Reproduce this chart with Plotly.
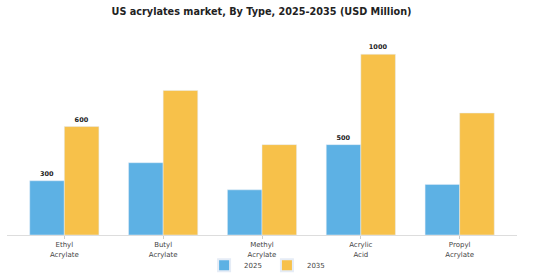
import plotly.graph_objects as go

categories = ["Ethyl<br>Acrylate", "Butyl<br>Acrylate", "Methyl<br>Acrylate", "Acrylic<br>Acid", "Propyl<br>Acrylate"]
values_2025 = [300, 400, 250, 500, 280]
values_2035 = [600, 800, 500, 1000, 675]
labels_2025 = ["300", "", "", "500", ""]
labels_2035 = ["600", "", "", "1000", ""]

fig = go.Figure()
fig.add_trace(go.Bar(x=categories, y=values_2025, name="2025", marker_color="#5DB1E4",
                     text=labels_2025, textposition="outside", cliponaxis=False,
                     textfont=dict(size=6.5, color="#222", family="DejaVu Sans", weight="bold")))
fig.add_trace(go.Bar(x=categories, y=values_2035, name="2035", marker_color="#F7C14A",
                     text=labels_2035, textposition="outside", cliponaxis=False,
                     textfont=dict(size=6.5, color="#222", family="DejaVu Sans", weight="bold")))

fig.update_layout(
    width=560, height=280,
    margin=dict(l=7, r=43, t=40, b=45, autoexpand=False),
    barmode="group", bargap=0.30, bargroupgap=0,
    plot_bgcolor="white", paper_bgcolor="white",
    font=dict(family="DejaVu Sans", size=7, color="#333"),
    title=dict(text="<b>US acrylates market, By Type, 2025-2035 (USD Million)</b>",
               x=0.467, xanchor="center", y=0.96, yanchor="middle",
               font=dict(size=9.7, color="#222", family="DejaVu Sans")),
    legend=dict(orientation="h", x=0.51, xanchor="center", yref="container", y=0.053, yanchor="middle",
                font=dict(size=7, color="#444"), itemwidth=30, itemsizing="constant",
                bgcolor="rgba(0,0,0,0)", tracegroupgap=0),
    xaxis=dict(range=[-0.58, 4.58], showline=True, linecolor="#ddd", linewidth=1,
               ticks="outside", ticklen=3, tickcolor="#ccc", tickfont=dict(size=7, color="#444")),
    yaxis=dict(range=[0, 1079], visible=False, showgrid=False),
)
fig.write_html("out.html")
